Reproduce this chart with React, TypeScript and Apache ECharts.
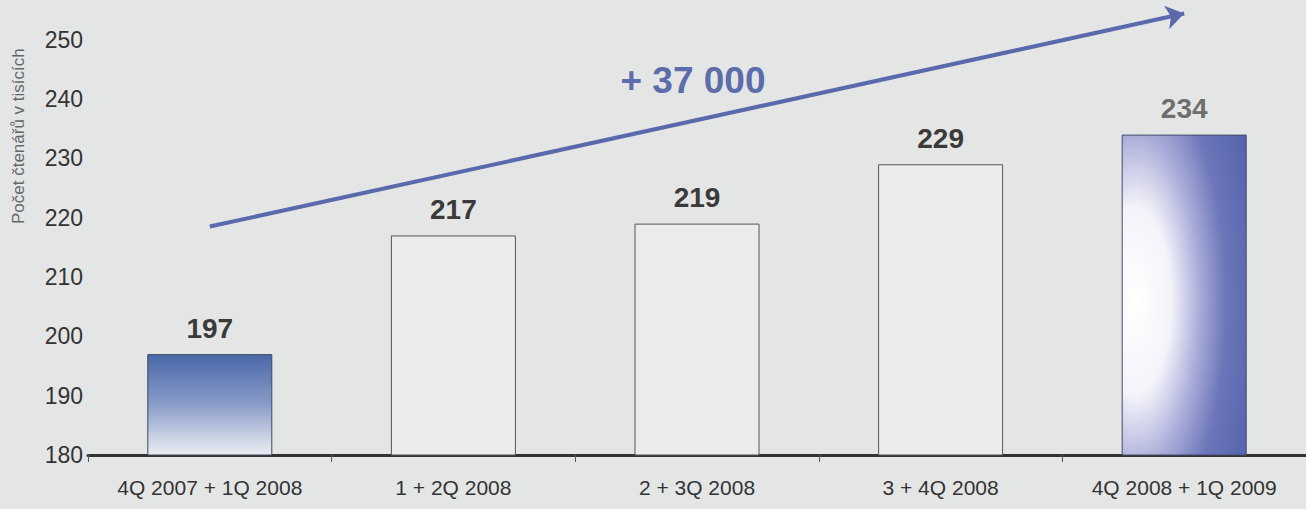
import React, { useEffect, useRef } from "react";
import * as echarts from "echarts";

const categories = [
  "4Q 2007 + 1Q 2008",
  "1 + 2Q 2008",
  "2 + 3Q 2008",
  "3 + 4Q 2008",
  "4Q 2008 + 1Q 2009",
];
const readers = [197, 217, 219, 229, 234];
const arrowStart = [0, 218.5];
const arrowEnd = [4, 254.4];
const growthLabel = "+ 37 000";
const yAxisTitle = "Počet čtenářů v tisících";

const FONT = "'Liberation Sans', Arial, sans-serif";

const barStyles: any[] = [
  {
    color: {
      type: "linear", x: 0, y: 0, x2: 0, y2: 1,
      colorStops: [
        { offset: 0, color: "#4a68a8" },
        { offset: 0.5, color: "#8a9dc9" },
        { offset: 1, color: "#eceef2" },
      ],
    },
    borderColor: "#3d4660", borderWidth: 1,
  },
  { color: "#ebecec", borderColor: "#555", borderWidth: 1 },
  { color: "#ebecec", borderColor: "#555", borderWidth: 1 },
  { color: "#ebecec", borderColor: "#555", borderWidth: 1 },
  {
    color: {
      type: "radial", x: 0.1, y: 0.52, r: 1.05,
      colorStops: [
        { offset: 0, color: "#ffffff" },
        { offset: 0.28, color: "#f4f3fa" },
        { offset: 0.5, color: "#a9acd9" },
        { offset: 0.7, color: "#6c76b9" },
        { offset: 1, color: "#5361ae" },
      ],
    },
    borderColor: "#444a6a", borderWidth: 1,
  },
];
const labelColors = ["#3a3a3a", "#3a3a3a", "#3a3a3a", "#3a3a3a", "#6e6e6e"];

export default function App() {
  const ref = useRef<HTMLDivElement>(null);
  useEffect(() => {
    const chart = echarts.init(ref.current!, undefined, { renderer: "svg" });
    chart.setOption({
      animation: false,
      backgroundColor: "#e4e6e6",
      grid: { left: 88, width: 1235, top: 10, height: 445 },
      xAxis: {
        type: "category",
        data: categories,
        axisLine: { lineStyle: { color: "#333", width: 3 } },
        axisTick: { show: true, length: 7, lineStyle: { color: "#555", width: 1 } },
        axisLabel: { color: "#333", fontSize: 21, fontFamily: FONT, margin: 22 },
      },
      yAxis: {
        type: "value",
        min: 180,
        max: 255,
        interval: 10,
        axisLine: { show: false },
        axisTick: { show: false },
        splitLine: { show: false },
        axisLabel: {
          color: "#333",
          fontSize: 23,
          fontFamily: FONT,
          margin: 5,
          formatter: (v: number) => (v % 10 === 0 && v <= 250 ? String(v) : ""),
        },
      },
      graphic: [
        {
          type: "text",
          x: 18,
          y: 224,
          rotation: Math.PI / 2,
          style: {
            text: yAxisTitle,
            fill: "#666",
            fontSize: 17,
            fontFamily: FONT,
            textAlign: "left",
            textVerticalAlign: "middle",
          },
        },
        {
          type: "text",
          x: 693,
          y: 80,
          style: {
            text: growthLabel,
            fill: "#5d6cab",
            fontSize: 37,
            fontWeight: "bold",
            fontFamily: FONT,
            textAlign: "center",
            textVerticalAlign: "middle",
          },
        },
      ],
      series: [
        {
          type: "bar",
          barWidth: 125,
          data: readers.map((v, i) => ({
            value: v,
            itemStyle: barStyles[i],
            label: { color: labelColors[i] },
          })),
          label: {
            show: true,
            position: "top",
            distance: 12,
            fontSize: 28,
            fontWeight: "bold",
            fontFamily: FONT,
          },
          markLine: {
            silent: true,
            symbol: ["none", "arrow"],
            symbolSize: 18,
            label: { show: false },
            lineStyle: { color: "#5a69ab", width: 4, type: "solid" },
            data: [[{ coord: arrowStart }, { coord: arrowEnd }]],
          },
        },
      ],
    });
    return () => chart.dispose();
  }, []);
  return (
    <div
      ref={ref}
      style={{ position: "fixed", left: 0, top: 0, width: 1306, height: 509 }}
    />
  );
}
